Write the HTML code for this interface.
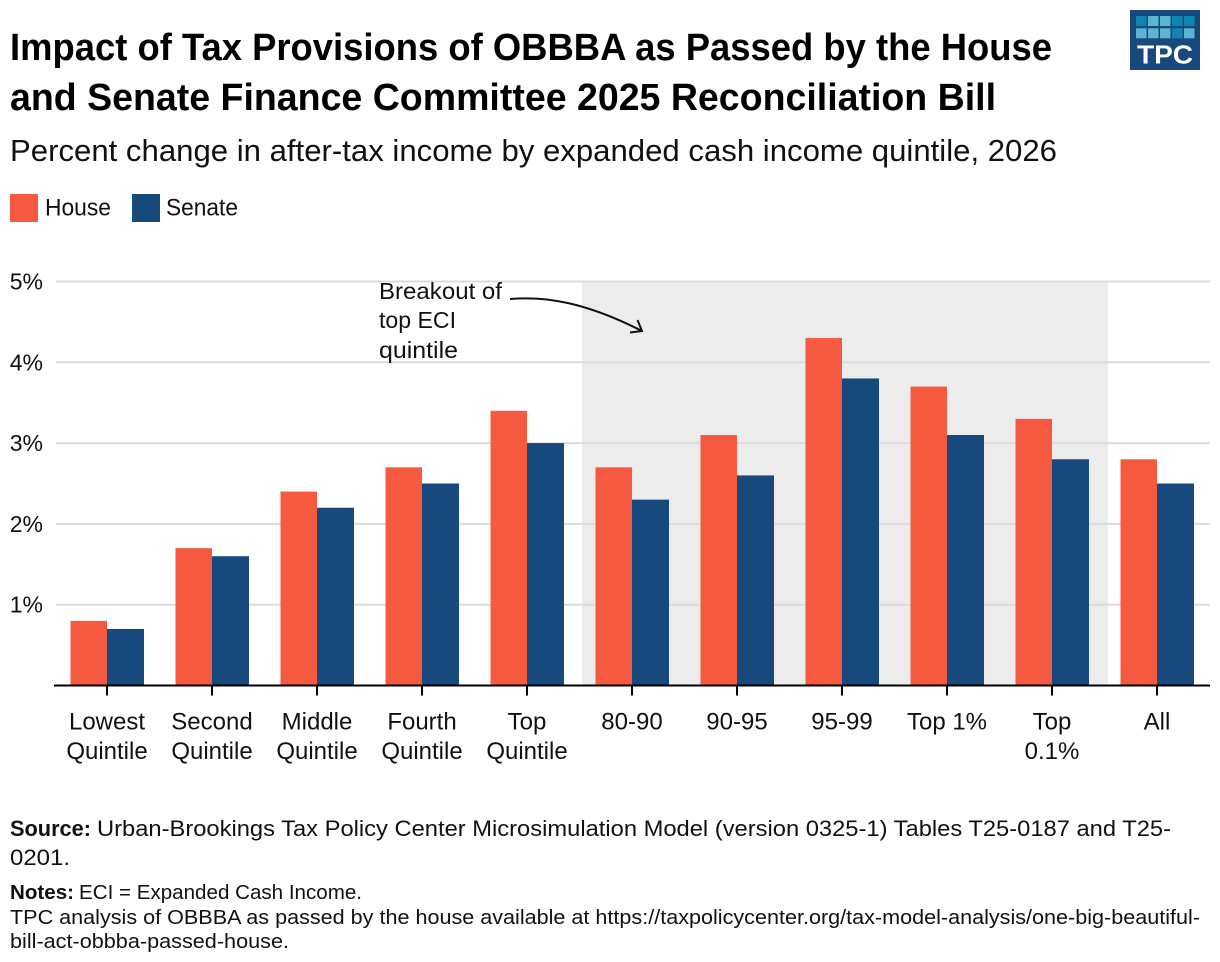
<!DOCTYPE html>
<html lang="en">
<head>
<meta charset="utf-8">
<title>Impact of Tax Provisions of OBBBA</title>
<style>
html,body{margin:0;padding:0;background:#fff;width:1220px;height:962px;overflow:hidden}
svg{display:block}
text{font-family:"Liberation Sans",sans-serif;fill:#111}
</style>
</head>
<body>
<svg id="chart" xmlns="http://www.w3.org/2000/svg" width="1220" height="962" viewBox="0 0 1220 962">
<rect x="0" y="0" width="1220" height="962" fill="#fff"/>
<text x="10" y="60" font-size="38" font-weight="700" textLength="1042" lengthAdjust="spacingAndGlyphs" style="fill:#000">Impact of Tax Provisions of OBBBA as Passed by the House</text>
<text x="10" y="110" font-size="38" font-weight="700" textLength="986" lengthAdjust="spacingAndGlyphs" style="fill:#000">and Senate Finance Committee 2025 Reconciliation Bill</text>
<text x="10" y="161" font-size="31" textLength="1047" lengthAdjust="spacingAndGlyphs">Percent change in after-tax income by expanded cash income quintile, 2026</text>

<g>
<rect x="1130" y="10" width="70" height="60" fill="#17497c"/>
<g id="logo-cells"></g>
<text x="1137" y="63.5" font-size="25.5" font-weight="700" textLength="56" lengthAdjust="spacingAndGlyphs" style="fill:#fff">TPC</text>
</g>

<g>
<rect x="10" y="194" width="28" height="28" fill="#f55a40"/>
<text x="45" y="215.5" font-size="24" textLength="66" lengthAdjust="spacingAndGlyphs">House</text>
<rect x="132" y="194" width="28" height="28" fill="#17497c"/>
<text x="166" y="215.5" font-size="24" textLength="72" lengthAdjust="spacingAndGlyphs">Senate</text>
</g>

<g id="plot"></g>

<g>
<text x="379" y="299" font-size="23" textLength="123" lengthAdjust="spacingAndGlyphs">Breakout of</text>
<text x="379" y="328" font-size="23" textLength="77" lengthAdjust="spacingAndGlyphs">top ECI</text>
<text x="379" y="358" font-size="23" textLength="79" lengthAdjust="spacingAndGlyphs">quintile</text>
<path d="M510 299 C545 296 585 302 642 331 M630 332.5 L642 331 L637.5 320" fill="none" stroke="#111" stroke-width="2"/>
</g>

<g>
<text x="10" y="836" font-size="22" font-weight="700" textLength="81" lengthAdjust="spacingAndGlyphs">Source:</text>
<text x="97" y="836" font-size="22" textLength="1074" lengthAdjust="spacingAndGlyphs">Urban-Brookings Tax Policy Center Microsimulation Model (version 0325-1) Tables T25-0187 and T25-</text>
<text x="10" y="865" font-size="22" textLength="60" lengthAdjust="spacingAndGlyphs">0201.</text>
<text x="10" y="899" font-size="20" font-weight="700" textLength="64" lengthAdjust="spacingAndGlyphs">Notes:</text>
<text x="79" y="899" font-size="20" textLength="283" lengthAdjust="spacingAndGlyphs">ECI = Expanded Cash Income.</text>
<text x="10" y="924" font-size="20" textLength="1190" lengthAdjust="spacingAndGlyphs">TPC analysis of OBBBA as passed by the house available at https://taxpolicycenter.org/tax-model-analysis/one-big-beautiful-</text>
<text x="10" y="948" font-size="20" textLength="279" lengthAdjust="spacingAndGlyphs">bill-act-obbba-passed-house.</text>
</g>
</svg>
<script>
const categories = [["Lowest","Quintile"],["Second","Quintile"],["Middle","Quintile"],["Fourth","Quintile"],["Top","Quintile"],["80-90"],["90-95"],["95-99"],["Top 1%"],["Top","0.1%"],["All"]];
const houseValues = [0.8,1.7,2.4,2.7,3.4,2.7,3.1,4.3,3.7,3.3,2.8];
const senateValues = [0.7,1.6,2.2,2.5,3.0,2.3,2.6,3.8,3.1,2.8,2.5];
const yTicks = [1,2,3,4,5];
const yTickLabels = ["1%","2%","3%","4%","5%"];
const breakoutCategoryStart = 5;
const breakoutCategoryEnd = 9;
const logoShades = ["#0f86b0","#5bb5d3","#5bb5d3","#0f86b0","#0f86b0","#5bb5d3","#5bb5d3","#5bb5d3","#0f86b0","#5bb5d3"];

const NS = "http://www.w3.org/2000/svg";
const plot = document.getElementById("plot");
const y0 = 685.5, yPerUnit = 80.8, x0 = 107, step = 105, barW = 36.5, yMax = 5, bandOffset = 2.5;
const xScale = i => x0 + i * step;
const yScale = v => y0 - v * yPerUnit;
function make(tag, attrs, parent, text) {
  const el = document.createElementNS(NS, tag);
  for (const k in attrs) el.setAttribute(k, attrs[k]);
  if (text !== undefined) el.textContent = text;
  parent.appendChild(el);
  return el;
}

const band = make("rect", {x: xScale(breakoutCategoryStart) - step / 2 + bandOffset, y: yScale(yMax), width: (breakoutCategoryEnd - breakoutCategoryStart + 1) * step + 1, height: y0 - yScale(yMax), fill: "#ececec"}, plot);



yTicks.forEach((t, i) => {
  const line = make("line", {x1: 56, x2: 1210, y1: yScale(t), y2: yScale(t), stroke: "#dcdcdc", "stroke-width": 2}, plot);
  
  
  const lab = make("text", {x: 43, y: yScale(t) + 8, "font-size": 23, "text-anchor": "end"}, plot, yTickLabels[i]);
  
  
});

categories.forEach((lines, i) => {
  const cx = xScale(i);
  const h = make("rect", {x: cx - barW, y: yScale(houseValues[i]), width: barW, height: y0 - yScale(houseValues[i]), fill: "#f55a40"}, plot);
  
  
  const s = make("rect", {x: cx, y: yScale(senateValues[i]), width: barW + 0.5, height: y0 - yScale(senateValues[i]), fill: "#17497c"}, plot);
  
  
  const tick = make("line", {x1: cx, x2: cx, y1: y0, y2: y0 + 10, stroke: "#000", "stroke-width": 2}, plot);
  
  
  lines.forEach((ln, j) => {
    const t = make("text", {x: cx, y: 729.5 + j * 29.5, "font-size": 24, "text-anchor": "middle"}, plot, ln);
    
    
  });
});

const axis = make("line", {x1: 54, x2: 1210, y1: y0, y2: y0, stroke: "#000", "stroke-width": 2}, plot);



const logoCells = document.getElementById("logo-cells");
logoShades.forEach((c, i) => {
  const cell = make("rect", {x: 1136 + (i % 5) * 12, y: 16 + Math.floor(i / 5) * 12.3, width: 10.5, height: 10, fill: c}, logoCells);
  
  
});
</script>
</body>
</html>
